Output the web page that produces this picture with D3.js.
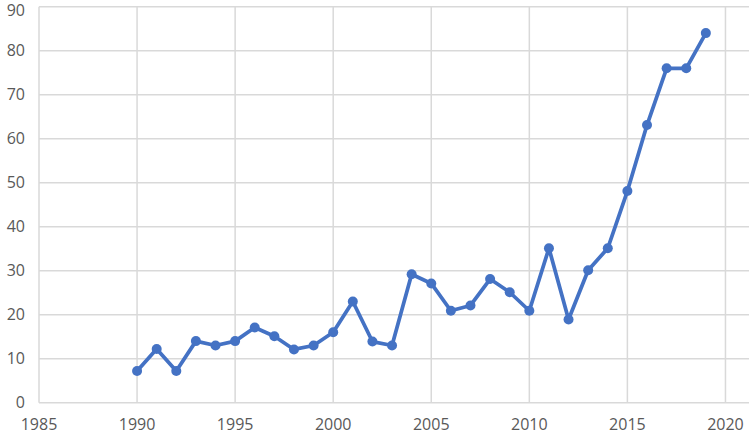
<!DOCTYPE html>
<html><head><meta charset="utf-8">
<script src="https://cdn.jsdelivr.net/npm/d3@7"></script>
<style>html,body{margin:0;padding:0;background:#fff;}svg{display:block;}</style>
</head><body>
<script>
const years = [1990,1991,1992,1993,1994,1995,1996,1997,1998,1999,2000,2001,2002,2003,2004,2005,2006,2007,2008,2009,2010,2011,2012,2013,2014,2015,2016,2017,2018,2019];
const values = [7.2,12.2,7.2,14,13,14,17.1,15.1,12.1,13,16,23,13.9,13,29.2,27.1,20.9,22.1,28.1,25.1,20.9,35.1,18.9,30.1,35.1,48.1,63.1,76,76,84];
const xTicks = [1985,1990,1995,2000,2005,2010,2015,2020];
const yTicks = [0,10,20,30,40,50,60,70,80,90];

const W = 750, H = 435;
const svg = d3.select("body").append("svg").attr("width", W).attr("height", H);
const x = d3.scaleLinear().domain([1985, 2021.2]).range([39, 749]);
const y = d3.scaleLinear().domain([0, 90]).range([402.7, 6.7]);
const grid = "#d9d9d9", txt = "#595959", font = "'Open Sans', sans-serif";

// horizontal grid
svg.append("g").selectAll("line").data(yTicks).join("line")
  .attr("x1", 39).attr("x2", 749)
  .attr("y1", d => y(d)).attr("y2", d => y(d))
  .attr("stroke", grid).attr("stroke-width", 1.5);
// vertical grid
svg.append("g").selectAll("line").data(xTicks).join("line")
  .attr("x1", d => x(d)).attr("x2", d => x(d))
  .attr("y1", y(90)).attr("y2", y(0))
  .attr("stroke", grid).attr("stroke-width", 1.5);

// y labels
svg.append("g").selectAll("text").data(yTicks).join("text")
  .attr("x", 25).attr("y", d => Math.max(y(d), 10)).attr("dy", "0.36em")
  .attr("text-anchor", "end").attr("fill", txt)
  .style("font-family", font).style("font-size", "16px").text(d => d);
// x labels
svg.append("g").selectAll("text").data(xTicks).join("text")
  .attr("x", d => x(d)).attr("y", 430)
  .attr("text-anchor", "middle").attr("fill", txt)
  .style("font-family", font).style("font-size", "16px").text(d => d);

const color = "#4472C4";
const line = d3.line().x((d,i) => x(years[i])).y(d => y(d));
svg.append("path").datum(values).attr("d", line)
  .attr("fill", "none").attr("stroke", color).attr("stroke-width", 3.75)
  .attr("stroke-linejoin", "round");
svg.append("g").selectAll("circle").data(values).join("circle")
  .attr("cx", (d,i) => x(years[i])).attr("cy", d => y(d))
  .attr("r", 5).attr("fill", color);
</script>
</body></html>
